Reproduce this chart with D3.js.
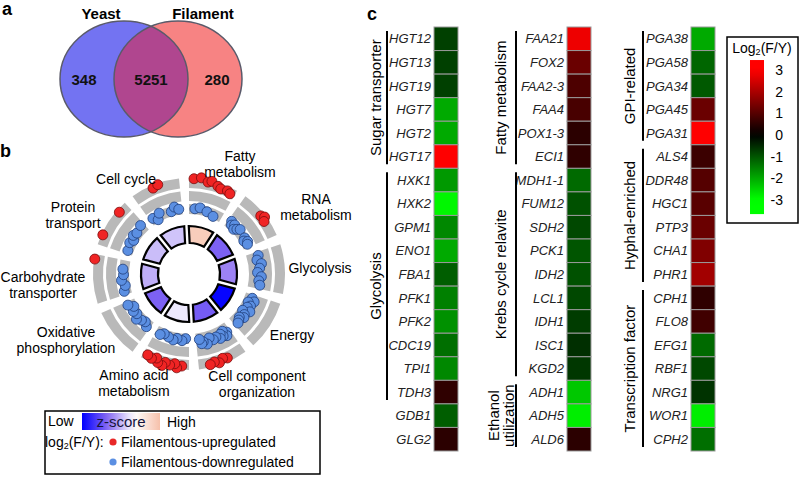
<!DOCTYPE html>
<html>
<head>
<meta charset="utf-8">
<script src="https://cdn.jsdelivr.net/npm/d3@7"></script>
<style>
 body { margin: 0; background: #fff; }
 svg { font-family: "Liberation Sans", Arial, sans-serif; }
</style>
</head>
<body>
<svg id="fig" width="800" height="477"></svg>
<script>
// ---- panel a data ----
var vennSets = ["Yeast", "Filament"];
var vennCounts = [348, 5251, 280]; // yeast only, shared, filament only

// ---- panel b data ----
var goTerms = ["Fatty metabolism", "RNA metabolism", "Glycolysis", "Energy",
 "Cell component organization", "Amino acid metabolism", "Oxidative phosphorylation",
 "Carbohydrate transporter", "Protein transport", "Cell cycle"];
var goZscore = [1.6, -2.2, -1.7, -3.9, -2.3, -0.3, -2.2, -1.1, -0.9, -0.8];
var goGeneFC = [
 [2.4, -1.5, 2.6, -1.3, 2.2, 2.4, -1.6, 2.0, 1.8, -1.9, 1.9, 1.7],
 [-1.2, -1.6, -1.3, -1.8, -1.5, -1.2, 2.0, 2.3, 1.9, -1.4, -1.7, -1.3, -1.5],
 [-0.7, -1.0, -0.5, -0.8, -1.1, -0.6, -0.9, -0.7],
 [-1.2, -0.8, -1.5, -1.0, -1.3, -0.7, -1.6, -1.1, -0.9, -1.4, -1.2, -1.0],
 [-1.0, -0.6, -1.4, -0.8, -1.2, -0.7, 2.0, -1.1, 1.8, -0.9, 2.2, -1.3, 1.9, -0.6, 2.1, -1.0, -0.8, -1.4],
 [-1.6, 2.0, -1.3, 2.3, 1.8, -1.5, 2.1, -1.2, 1.9, 2.4, -1.4, 2.2, 1.7, -1.6, 2.0, -1.3, 1.8],
 [-1.2, -1.6, -1.4, -1.0, -1.5, -1.3, -1.7, -1.1],
 [-1.3, -1.6, -1.2, -1.5, -1.4, 2.4],
 [-1.5, 2.3, -1.3, -1.6, -1.2, -1.4, 2.1, -1.1],
 [-1.4, -1.9, -1.2, 2.1, 2.3, -1.6, -1.1, -1.5]
];
var goLabelLines = [["Fatty", "metabolism"], ["RNA", "metabolism"], ["Glycolysis"], ["Energy"],
 ["Cell component", "organization"], ["Amino acid", "metabolism"], ["Oxidative", "phosphorylation"],
 ["Carbohydrate", "transporter"], ["Protein", "transport"], ["Cell cycle"]];

// ---- panel c data ----
var col1Genes = ["HGT12", "HGT13", "HGT19", "HGT7", "HGT2", "HGT17", "HXK1", "HXK2", "GPM1",
 "ENO1", "FBA1", "PFK1", "PFK2", "CDC19", "TPI1", "TDH3", "GDB1", "GLG2"];
var col1Values = [-0.75, -0.75, -0.75, -2.0, -2.0, 3.0, -1.8, -2.9, -1.6,
 -2.0, -1.1, -1.5, -1.7, -1.3, -1.6, 0.55, -1.1, 0.5];
var col2Genes = ["FAA21", "FOX2", "FAA2-3", "FAA4", "POX1-3", "ECI1", "MDH1-1", "FUM12", "SDH2",
 "PCK1", "IDH2", "LCL1", "IDH1", "ISC1", "KGD2", "ADH1", "ADH5", "ALD6"];
var col2Values = [2.8, 1.25, 0.9, 0.85, 0.5, 0.55, -1.25, -0.95, -0.85,
 -1.0, -0.95, -0.85, -0.7, -0.55, -0.65, -2.35, -2.8, 0.5];
var col3Genes = ["PGA38", "PGA58", "PGA34", "PGA45", "PGA31", "ALS4", "DDR48", "HGC1", "PTP3",
 "CHA1", "PHR1", "CPH1", "FLO8", "EFG1", "RBF1", "NRG1", "WOR1", "CPH2"];
var col3Values = [-2.0, -1.2, -1.05, 1.25, 3.0, 0.7, 1.0, 1.05, 1.25,
 1.5, 1.9, 0.55, 0.75, -1.25, -0.85, -0.6, -2.8, -1.3];

var col1GroupNames = [["Sugar transporter"], ["Glycolysis"]];
var col1GroupStart = [0, 6], col1GroupEnd = [5, 15];
var col2GroupNames = [["Fatty metabolism"], ["Krebs cycle relavite"], ["Ethanol", "utilization"]];
var col2GroupStart = [0, 6, 15], col2GroupEnd = [5, 14, 17];
var col3GroupNames = [["GPI-related"], ["Hyphal-enriched"], ["Transcription factor"]];
var col3GroupStart = [0, 5, 11], col3GroupEnd = [4, 10, 17];

var legendTicks = [3, 2, 1, 0, -1, -2, -3];

var svg = d3.select("#fig");

function panelLetter(x, y, s) {
 svg.append("text").attr("x", x).attr("y", y)
 .attr("font-size", 18).attr("font-weight", "bold").text(s);
}

// ================= a =================
panelLetter(2, 15, "a");

var vennCx = [124, 178], vennCy = 79, vennRx = 64, vennRy = 58;
var va = svg.append("g");
va.append("clipPath").attr("id", "clipYeast")
 .append("ellipse").attr("cx", vennCx[0]).attr("cy", vennCy).attr("rx", vennRx).attr("ry", vennRy);
va.append("ellipse").attr("cx", vennCx[0]).attr("cy", vennCy).attr("rx", vennRx).attr("ry", vennRy)
 .attr("fill", "#7373f2");
va.append("ellipse").attr("cx", vennCx[1]).attr("cy", vennCy).attr("rx", vennRx).attr("ry", vennRy)
 .attr("fill", "#f78383");
va.append("ellipse").attr("cx", vennCx[1]).attr("cy", vennCy).attr("rx", vennRx).attr("ry", vennRy)
 .attr("clip-path", "url(#clipYeast)").attr("fill", "#b0468f");
va.selectAll("ellipse.outline").data(vennCx).enter().append("ellipse")
 .attr("class", "outline")
 .attr("cx", function(d) { return d; }).attr("cy", vennCy)
 .attr("rx", vennRx).attr("ry", vennRy)
 .attr("fill", "none").attr("stroke", "#5a5a6a").attr("stroke-width", 1.5);

va.selectAll("text.set").data(vennSets).enter().append("text")
 .attr("x", function(d, i) { return i ? vennCx[1] + 25 : vennCx[0] - 23; })
 .attr("y", 19).attr("text-anchor", "middle")
 .attr("font-size", 15).attr("font-weight", "bold").text(function(d) { return d; });

var countX = [
 (vennCx[0] - vennRx + vennCx[1] - vennRx) / 2 - 3,
 (vennCx[1] - vennRx + vennCx[0] + vennRx) / 2,
 (vennCx[0] + vennRx + vennCx[1] + vennRx) / 2 + 2
];
va.selectAll("text.count").data(vennCounts).enter().append("text")
 .attr("x", function(d, i) { return countX[i]; })
 .attr("y", 85).attr("text-anchor", "middle")
 .attr("font-size", 15).attr("font-weight", "bold").attr("fill", "#111")
 .text(function(d) { return d; });

// ================= b =================
panelLetter(0, 157, "b");

var cx = 189, cy = 274, deg = Math.PI / 180;
var step = 360 / goTerms.length, rot = -3;
var zColor = d3.scaleLinear().domain([-4, -2, 0, 2])
 .range(["#0000ff", "#8a6cf2", "#ffffff", "#f6c0aa"]).clamp(true);
var rScale = d3.scaleLinear().domain([-3, 3]).range([54, 100]);
var bandR = [[60, 70], [73, 83], [86, 96]];

var gb = svg.append("g").attr("transform", "translate(" + cx + "," + cy + ")");
var arc = d3.arc();

goTerms.forEach(function(t, i) {
 var a0 = (rot + i * step + 3) * deg, a1 = (rot + (i + 1) * step - 3) * deg;
 bandR.forEach(function(b) {
  gb.append("path")
  .attr("d", arc({innerRadius: b[0], outerRadius: b[1], startAngle: a0, endAngle: a1}))
  .attr("fill", "#b9b9b9");
 });
});

var ringArc = d3.arc().innerRadius(31).outerRadius(48).padAngle(0.08);
gb.selectAll(".ring").data(goZscore).enter().append("path")
 .attr("class", "ring")
 .attr("d", function(d, i) {
  return ringArc({startAngle: (rot + i * step) * deg, endAngle: (rot + (i + 1) * step) * deg});
 })
 .attr("fill", function(d) { return zColor(d); })
 .attr("stroke", "#000").attr("stroke-width", 2.2);

goGeneFC.forEach(function(vals, i) {
 var n = vals.length, s0 = rot + i * step + 6, span = step - 12;
 gb.selectAll(".dot" + i).data(vals).enter().append("circle")
 .attr("class", "dot" + i)
 .attr("cx", function(d, j) { var a = (s0 + j * span / (n - 1)) * deg; return rScale(d) * Math.sin(a); })
 .attr("cy", function(d, j) { var a = (s0 + j * span / (n - 1)) * deg; return -rScale(d) * Math.cos(a); })
 .attr("r", 5)
 .attr("fill", function(d) { return d > 0 ? "#f02424" : "#5b8fe2"; })
 .attr("stroke", function(d) { return d > 0 ? "#7a0c0c" : "#1f3d7a"; })
 .attr("stroke-width", 0.8);
});

var labelPos = [[240, 161], [316, 204], [320, 273], [292, 340], [257, 381],
 [134, 380], [66, 337], [43, 282], [73, 212], [126, 184]];
goLabelLines.forEach(function(lines, i) {
 var t = svg.append("text").attr("text-anchor", "middle").attr("font-size", 14)
 .attr("x", labelPos[i][0]).attr("y", labelPos[i][1]);
 lines.forEach(function(l, k) {
  t.append("tspan").attr("x", labelPos[i][0]).attr("dy", k ? 16 : 0).text(l);
 });
});

// legend b
var lb = svg.append("g");
lb.append("rect").attr("x", 45).attr("y", 411).attr("width", 275).attr("height", 63)
 .attr("fill", "none").attr("stroke", "#000").attr("stroke-width", 1.5);
var zg = svg.append("defs").append("linearGradient").attr("id", "zgrad");
d3.range(0, 1.0001, 0.1).forEach(function(p) {
 zg.append("stop").attr("offset", p).attr("stop-color", zColor(-4 + 6 * p));
});
lb.append("rect").attr("x", 82).attr("y", 413).attr("width", 78).attr("height", 17)
 .attr("fill", "url(#zgrad)");
lb.append("text").attr("x", 48).attr("y", 426).attr("font-size", 14).text("Low");
lb.append("text").attr("x", 121).attr("y", 427).attr("font-size", 15)
 .attr("text-anchor", "middle").attr("fill", "#14143c").text("z-score");
lb.append("text").attr("x", 167).attr("y", 427).attr("font-size", 14).text("High");
var lt = lb.append("text").attr("x", 45).attr("y", 447).attr("font-size", 14);
lt.append("tspan").text("log");
lt.append("tspan").attr("font-size", 9).attr("dy", 2).text("2");
lt.append("tspan").attr("dy", -2).text("(F/Y):");
lb.append("circle").attr("cx", 113).attr("cy", 442).attr("r", 3.6).attr("fill", "#e82828");
lb.append("text").attr("x", 121).attr("y", 447).attr("font-size", 14).text("Filamentous-upregulated");
lb.append("circle").attr("cx", 113).attr("cy", 462).attr("r", 3.6).attr("fill", "#5b8fe2");
lb.append("text").attr("x", 121).attr("y", 467).attr("font-size", 14).text("Filamentous-downregulated");

// ================= c =================
panelLetter(367, 20, "c");

var heat = d3.scaleLinear().domain([-3, 0, 3]).range(["#00ff00", "#000000", "#ff0000"]).clamp(true);
var rowY = d3.scaleBand().domain(d3.range(18)).range([27, 451]);
var h = rowY.bandwidth();

var columns = [
 {genes: col1Genes, vals: col1Values, names: col1GroupNames, st: col1GroupStart, en: col1GroupEnd,
  x: 434, lab: 431, br: 387, gl: 381},
 {genes: col2Genes, vals: col2Values, names: col2GroupNames, st: col2GroupStart, en: col2GroupEnd,
  x: 567, lab: 564, br: 516, gl: 506},
 {genes: col3Genes, vals: col3Values, names: col3GroupNames, st: col3GroupStart, en: col3GroupEnd,
  x: 691, lab: 688, br: 643, gl: 635}
];

columns.forEach(function(c) {
 var g = svg.append("g");
 g.selectAll("rect").data(c.vals).enter().append("rect")
 .attr("x", c.x).attr("y", function(d, i) { return rowY(i); })
 .attr("width", 24).attr("height", h)
 .attr("fill", function(d) { return heat(d); })
 .attr("stroke", "#9a9a9a").attr("stroke-width", 1);
 g.selectAll("text.gene").data(c.genes).enter().append("text")
 .attr("class", "gene")
 .attr("x", c.lab).attr("y", function(d, i) { return rowY(i) + h / 2; })
 .attr("dy", "0.36em").attr("text-anchor", "end")
 .attr("font-size", 13).attr("font-style", "italic").attr("fill", "#222")
 .text(function(d) { return d; });
 c.names.forEach(function(lines, k) {
  var y0 = rowY(c.st[k]), y1 = rowY(c.en[k]) + h;
  g.append("line").attr("x1", c.br).attr("x2", c.br)
  .attr("y1", y0 + 4).attr("y2", y1 - 4)
  .attr("stroke", "#000").attr("stroke-width", 2);
  lines.forEach(function(l, m) {
   var bx = c.gl + (m - (lines.length - 1) / 2) * 15, by = (y0 + y1) / 2;
   g.append("text").attr("transform", "translate(" + bx + "," + by + ") rotate(-90)")
   .attr("text-anchor", "middle").attr("font-size", 15).text(l);
  });
 });
});

// colour bar legend
var legY = d3.scaleLinear().domain([3, -3]).range([70, 200]);
var cb = svg.append("g");
cb.append("rect").attr("x", 727).attr("y", 37).attr("width", 71).attr("height", 186)
 .attr("fill", "#fff").attr("stroke", "#000").attr("stroke-width", 1.5);
var ct = cb.append("text").attr("x", 762).attr("y", 53).attr("text-anchor", "middle").attr("font-size", 14);
ct.append("tspan").text("Log");
ct.append("tspan").attr("font-size", 9).attr("dy", 2).text("2");
ct.append("tspan").attr("dy", -2).text("(F/Y)");
var barTop = 3.46, barBot = -3.65;
var hg = svg.select("defs").append("linearGradient").attr("id", "hgrad")
 .attr("x1", 0).attr("x2", 0).attr("y1", 0).attr("y2", 1);
d3.range(0, 1.0001, 0.05).forEach(function(p) {
 hg.append("stop").attr("offset", p).attr("stop-color", heat(barTop + (barBot - barTop) * p));
});
cb.append("rect").attr("x", 750).attr("width", 14)
 .attr("y", legY(barTop)).attr("height", legY(barBot) - legY(barTop))
 .attr("fill", "url(#hgrad)");
cb.selectAll("text.tick").data(legendTicks).enter().append("text")
 .attr("class", "tick")
 .attr("x", 783).attr("y", function(d) { return legY(d); }).attr("dy", "0.36em")
 .attr("text-anchor", "end").attr("font-size", 14)
 .text(function(d) { return d; });
</script>
</body>
</html>
